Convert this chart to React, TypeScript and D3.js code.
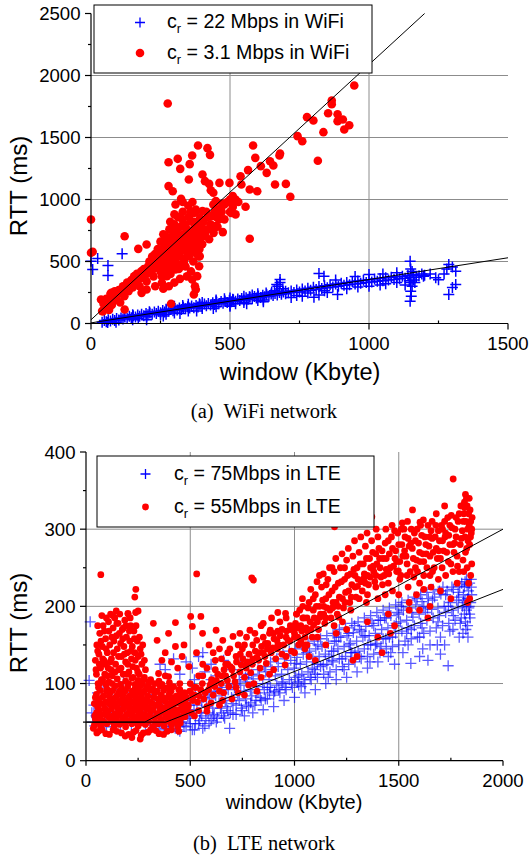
import React, { useEffect, useRef } from "react";
import * as d3 from "d3";

type Pt = [number, number];

// ---------- (a) WiFi network : [window KB, RTT ms] ----------
const wifi22Pts: Pt[] = [
  [0, 503], [6, 435], [24, 524], [61, 468], [61, 387], [112, 562],
  [40, 10], [48, 25], [55, 14], [62, 30], [70, 20], [78, 35], [85, 24], [92, 40], [100, 28], [108, 45],
  [115, 36], [122, 52], [130, 40], [138, 58], [145, 46], [152, 62], [160, 52], [168, 68], [175, 58], [182, 75],
  [190, 62], [198, 80], [205, 70], [212, 85], [220, 75], [228, 92], [235, 80], [242, 98], [250, 86], [258, 104],
  [265, 92], [272, 108], [280, 98], [288, 115], [295, 102], [302, 120], [310, 108], [318, 126], [325, 112], [332, 130],
  [340, 118], [348, 136], [355, 124], [362, 142], [370, 128], [378, 146], [385, 134], [392, 152], [400, 140], [408, 158],
  [415, 144], [422, 162], [430, 150], [438, 168], [445, 154], [452, 172], [460, 160], [468, 178], [475, 164], [482, 182],
  [490, 170], [498, 188], [505, 175], [512, 192], [520, 180], [528, 198], [535, 185], [542, 202], [550, 190], [558, 208],
  [565, 195], [572, 212], [580, 200], [588, 218], [595, 205], [602, 222], [610, 210], [618, 228], [625, 215], [632, 232],
  [640, 220], [648, 238], [655, 225], [662, 242], [670, 230], [678, 250], [685, 236], [692, 255], [700, 240],
  [150, 30], [200, 55], [250, 70], [300, 85], [350, 100], [400, 120], [450, 135], [500, 150], [550, 170], [600, 185],
  [300, 140], [350, 155], [400, 170], [450, 190], [500, 205], [550, 220], [600, 240], [650, 255], [120, 60], [270, 75],
  [330, 145], [480, 200], [520, 160], [580, 230], [620, 190], [680, 330], [672, 300], [690, 280], [660, 265], [700, 260],
  [200, 30], [260, 60], [320, 80], [380, 100], [440, 120], [500, 140], [560, 160], [620, 175], [150, 70], [210, 95],
  [270, 115], [330, 135], [390, 160], [450, 180], [510, 195], [570, 215], [630, 245], [90, 10], [60, 8], [170, 40],
  [710, 248], [720, 262], [730, 250], [740, 270], [750, 255], [760, 278], [770, 262], [780, 285], [790, 268], [800, 292],
  [810, 275], [820, 298], [830, 282], [840, 305], [850, 288], [860, 312], [870, 295], [880, 318], [890, 300], [900, 325],
  [910, 308], [920, 330], [930, 312], [940, 338], [950, 318], [960, 342], [970, 325], [980, 348], [990, 330], [1000, 352],
  [1010, 335], [1020, 358], [1030, 340], [1040, 362], [1050, 345], [1060, 368], [1070, 350], [1080, 372], [1090, 355],
  [1100, 378], [1110, 360], [1120, 382], [1130, 365], [1140, 390], [1150, 370], [1160, 395], [1170, 372], [1180, 385],
  [1190, 400], [1150, 330], [1155, 300], [1145, 345], [1160, 350], [1150, 260], [1152, 220], [1148, 180], [1148, 503],
  [1150, 440], [1155, 420], [1165, 330], [1130, 310], [1100, 330], [1060, 320], [1040, 310], [1000, 300], [960, 295],
  [920, 280], [887, 234], [850, 250], [802, 212], [820, 230], [760, 220], [740, 225], [720, 210], [780, 245], [840, 265],
  [820, 403], [838, 382], [880, 350], [950, 380], [1000, 395], [1050, 400], [1100, 410], [1200, 390], [1240, 368],
  [1196, 382], [1250, 352], [1280, 440], [1287, 476], [1300, 455], [1312, 422], [1287, 234], [1312, 315], [1300, 290],
  [1270, 400], [1220, 400], [680, 355], [668, 315],
];

const wifi31Pts: Pt[] = [
  [276, 1774], [0, 839], [6, 578], [0, 570], [121, 704], [170, 602], [200, 637], [385, 1435], [419, 1414], [428, 1360],
  [364, 1355], [312, 1328], [355, 1285], [279, 1301], [321, 1247], [352, 1161], [401, 1202], [410, 1148], [425, 1126],
  [431, 1075], [440, 1054], [279, 1108], [294, 1067], [324, 1005], [304, 960], [583, 1435], [591, 1336], [565, 1237],
  [538, 1188], [541, 1121], [498, 1134], [462, 1134], [510, 1027], [522, 987], [504, 892], [474, 968], [449, 987],
  [468, 933], [556, 941], [571, 1081], [598, 1067], [611, 1269], [632, 1215], [644, 1309], [656, 1274], [678, 1355],
  [680, 1371], [662, 1121], [701, 1126], [717, 1022], [571, 683], [743, 1511], [760, 1470], [777, 1664], [800, 1637],
  [816, 1312], [836, 1543], [853, 1696], [866, 1798], [866, 1769], [887, 1688], [887, 1632], [906, 1645], [911, 1565],
  [929, 1599], [947, 1919], [441, 731], [474, 737], [449, 785], [431, 866], [401, 906], [377, 919], [370, 892],
  [36, 194], [43, 99], [73, 247], [97, 261], [121, 113], [143, 328], [158, 382], [182, 247], [200, 274], [213, 462],
  [231, 301], [255, 328], [288, 159], [273, 382], [304, 435], [334, 489], [364, 355], [374, 301], [382, 382], [389, 462],
  [391, 543], [395, 637], [377, 274], [370, 234],
  [40, 100], [45, 160], [50, 130], [55, 200], [60, 180], [65, 110], [70, 240], [75, 150], [80, 210], [85, 260],
  [90, 190], [95, 230], [100, 270], [105, 170], [110, 250], [115, 300], [120, 220], [125, 280], [130, 330], [135, 260],
  [140, 310], [145, 350], [150, 290], [155, 380], [160, 330], [165, 400], [170, 350], [175, 300], [180, 420], [185, 370],
  [190, 440], [195, 390], [200, 340], [205, 460], [210, 410], [215, 480], [220, 430], [225, 380], [230, 500], [235, 450],
  [240, 520], [245, 470], [250, 420], [252, 560], [255, 500], [258, 600], [260, 450], [262, 540], [265, 650], [268, 480],
  [270, 580], [272, 700], [275, 520], [278, 620], [280, 460], [282, 760], [285, 560], [288, 680], [290, 500], [292, 620],
  [295, 740], [298, 540], [300, 800], [302, 650], [305, 580], [308, 720], [310, 480], [312, 860], [315, 620], [318, 700],
  [320, 540], [322, 780], [325, 660], [328, 600], [330, 900], [332, 720], [335, 520], [338, 680], [340, 800], [342, 620],
  [345, 760], [348, 560], [350, 700], [352, 860], [355, 640], [358, 740], [360, 580], [362, 820], [365, 680], [368, 500],
  [370, 760], [372, 620], [375, 900], [378, 700], [380, 560], [382, 800], [385, 660], [388, 740], [390, 600], [392, 850],
  [395, 700], [398, 780], [400, 640], [405, 820], [410, 720], [415, 900], [420, 760], [425, 680], [430, 800], [440, 960],
  [450, 860], [455, 780], [460, 920], [470, 900], [480, 840], [490, 980], [500, 900], [510, 940], [520, 880], [530, 980],
  [255, 380], [262, 420], [268, 560], [274, 440], [280, 640], [286, 400], [292, 700], [298, 460], [304, 520], [310, 760],
  [316, 440], [322, 580], [328, 840], [334, 600], [340, 460], [346, 680], [352, 540], [358, 900], [364, 600], [370, 820],
  [376, 640], [382, 700], [388, 540], [394, 760], [400, 700], [350, 950], [330, 980], [365, 980], [300, 880], [285, 820],
  [240, 600], [230, 560], [220, 540], [210, 500], [250, 660], [260, 720], [420, 860], [435, 760], [445, 900], [460, 840],
  [480, 960], [500, 1000], [520, 1000], [360, 420], [345, 380], [320, 360], [300, 330], [280, 300], [260, 280],
];

const wifi22Fit: Pt[] = [[0, 5], [1500, 530]];
const wifi31Fit: Pt[] = [[0, 30], [1200, 2500]];
const wifiXTicks = [0, 500, 1000, 1500];
const wifiYTicks = [0, 500, 1000, 1500, 2000, 2500];
const wifiXMinor = [250, 750, 1250];
const wifiYMinor = [250, 750, 1250, 1750, 2250];
const wifiXGrid = [500, 1000];
const wifiYGrid = [500, 1000, 1500, 2000];

// ---------- (b) LTE network ----------
const lte75Pts: Pt[] = [
  [15, 104], [20, 180], [28, 62], [32, 50], [38, 72], [42, 45], [48, 58], [55, 88], [62, 48], [68, 66], [75, 52],
  [82, 100], [90, 58], [98, 44], [105, 76], [112, 54], [120, 62], [128, 92], [135, 48], [142, 70], [150, 56], [158, 84],
  [165, 46], [172, 64], [180, 102], [188, 52], [195, 74], [202, 60], [210, 88], [218, 46], [225, 68], [232, 56], [240, 80],
  [248, 50], [255, 64], [262, 96], [270, 54], [278, 72], [285, 46], [292, 60], [300, 86], [308, 50], [315, 68], [322, 56],
  [330, 92], [338, 46], [345, 62], [352, 78], [360, 52], [368, 70], [375, 44], [382, 58], [390, 84], [398, 48], [405, 64],
  [412, 55], [420, 76], [428, 42], [435, 60], [442, 50],
  [355, 125], [380, 118], [420, 132], [450, 112], [480, 128], [510, 120], [540, 135], [570, 115], [600, 125], [630, 110],
  [660, 130], [700, 118], [740, 135], [780, 112], [520, 105], [600, 105], [560, 140],
  [450, 38], [458, 62], [465, 80], [480, 44], [488, 58], [495, 72], [510, 40], [518, 66], [525, 85], [540, 48], [548, 62],
  [555, 78], [570, 45], [578, 70], [585, 88], [600, 52], [608, 68], [615, 90], [630, 55], [638, 75], [645, 95], [660, 58],
  [668, 78], [675, 98], [689, 42], [692, 62], [698, 82], [705, 100], [720, 60], [728, 86], [735, 105], [750, 65], [758, 90],
  [765, 108], [780, 70], [788, 92], [795, 112], [810, 72], [818, 96], [825, 118], [840, 78], [848, 100], [855, 122],
  [870, 80], [878, 105], [885, 128], [900, 85], [908, 110], [915, 132], [930, 88], [938, 112], [945, 138], [960, 92],
  [968, 118], [975, 142], [990, 95], [998, 120], [1005, 145], [1020, 98], [1028, 125], [1035, 150], [1050, 100],
  [1058, 128], [1065, 152], [1080, 105], [1088, 132], [1095, 155], [1110, 108], [1118, 135], [1125, 158], [1140, 112],
  [1148, 138], [1155, 162], [1170, 115], [1178, 142], [1185, 165], [1200, 118], [1208, 145], [1215, 170], [1230, 122],
  [1238, 148], [1245, 172], [1260, 125], [1268, 152], [1275, 178], [1290, 128], [1298, 155], [1305, 180], [1320, 132],
  [1328, 160], [1335, 185], [1350, 135], [1358, 162], [1365, 188], [1380, 138], [1388, 165], [1395, 192], [1410, 140],
  [1418, 170], [1425, 195], [1440, 145], [1448, 172], [1455, 198], [1470, 148], [1478, 175], [1485, 202], [1500, 150],
  [1508, 180], [1515, 205], [1530, 155], [1538, 182], [1545, 208], [1560, 158], [1568, 186], [1575, 212], [1590, 160],
  [1598, 190], [1605, 215], [1620, 165], [1628, 192], [1635, 218], [1650, 168], [1658, 196], [1665, 222], [1680, 172],
  [1688, 198], [1695, 220], [1710, 175], [1718, 200], [1725, 215], [1740, 178], [1748, 205], [1755, 225], [1770, 182],
  [1778, 208], [1785, 218], [1800, 185], [1805, 200], [1810, 215], [1815, 225], [1820, 180], [1825, 195], [1830, 210],
  [1835, 220], [1840, 190], [1845, 205], [1850, 215], [1830, 175], [1840, 230], [1815, 190], [1825, 235],
  [1737, 123], [1558, 126], [1600, 135], [1640, 130], [1700, 138], [1720, 150], [1480, 125], [1450, 135], [1520, 140],
  [1400, 128], [1350, 120], [1300, 115], [1250, 108], [1200, 105], [1150, 100], [1100, 92], [1050, 88], [1000, 82],
  [950, 78], [900, 70], [850, 66], [800, 62], [760, 58], [1270, 140], [1180, 130], [1110, 125], [1020, 110], [940, 100],
  [870, 95], [1600, 160], [1650, 150], [1700, 160], [1760, 170], [1790, 160], [1560, 170], [1620, 200], [1500, 190],
  [1440, 185], [1380, 175], [1320, 168], [1260, 165], [1200, 155],
  [465, 50], [472, 70], [495, 55], [502, 78], [525, 48], [532, 72], [555, 58], [562, 82], [585, 62], [592, 80], [615, 60],
  [622, 84], [645, 68], [652, 88], [675, 70], [682, 92], [705, 74], [712, 95], [735, 78], [742, 98], [765, 80], [772, 102],
  [795, 84], [802, 106], [825, 88], [832, 110], [855, 92], [862, 115], [885, 95], [892, 118], [915, 98], [922, 122],
  [945, 102], [952, 126], [975, 105], [982, 130], [1005, 108], [1012, 134], [1035, 112], [1042, 138], [1065, 115],
  [1072, 142], [1095, 118], [1102, 145], [1125, 122], [1132, 148], [1155, 125], [1162, 152], [1185, 128], [1192, 155],
  [1215, 132], [1222, 160], [1245, 135], [1252, 162], [1275, 140], [1282, 166], [1305, 142], [1312, 170], [1335, 145],
  [1342, 174], [1365, 150], [1372, 178], [1395, 152], [1402, 182], [1425, 158], [1432, 185], [1455, 160], [1462, 188],
  [1485, 165], [1492, 192], [1515, 168], [1522, 195], [1545, 172], [1552, 198], [1575, 175], [1582, 202], [1605, 178],
  [1612, 206], [1635, 182], [1642, 210], [1665, 185], [1672, 212], [1695, 188], [1702, 216], [1725, 192], [1732, 220],
  [1755, 195], [1762, 222], [1785, 198], [1792, 226], [1812, 205], [1818, 232], [1838, 200], [1848, 225], [1822, 170],
  [1842, 185], [1808, 165], [1832, 160],
  [350, 40], [380, 42], [410, 45], [440, 40], [470, 45], [500, 48], [520, 40], [545, 52], [560, 42], [575, 55], [590, 48],
  [610, 58], [625, 50], [650, 62], [665, 55], [680, 65], [705, 60], [720, 72], [745, 68], [770, 72], [790, 75], [815, 78],
  [835, 82], [860, 80], [880, 88], [905, 90], [925, 92], [955, 95], [985, 100], [1015, 102], [1045, 105], [1075, 108],
  [1008, 126], [1032, 96], [1058, 140], [1085, 120], [1112, 150], [1138, 124], [1162, 108], [1188, 142], [1212, 160],
  [1238, 118], [1262, 150], [1288, 175], [1312, 135], [1338, 162], [1362, 128], [1388, 150], [1412, 182], [1438, 158],
  [1462, 140], [1488, 178], [1512, 200], [1538, 165], [1562, 192], [1588, 210], [1612, 172], [1638, 198], [1662, 208],
  [1688, 180], [1712, 225], [1738, 200], [1762, 188], [1788, 212], [1802, 230], [1828, 228], [1848, 235], [1818, 208],
  [1836, 198], [1795, 178], [1745, 168], [1685, 150], [1615, 145], [1545, 150], [1470, 160], [1415, 148], [1352, 150],
  [1290, 140], [1228, 132], [1165, 135], [1100, 112],
];

const lte55Pts: Pt[] = [
  // plume at small windows
  [45, 130], [50, 112], [52, 150], [58, 100], [62, 138], [66, 165], [70, 120], [74, 105], [78, 148], [82, 175],
  [86, 130], [90, 112], [94, 158], [98, 185], [102, 140], [106, 120], [110, 168], [114, 150], [118, 190], [122, 132],
  [126, 110], [130, 172], [134, 155], [138, 185], [142, 125], [146, 162], [150, 145], [154, 178], [158, 118], [162, 190],
  [166, 152], [170, 135], [174, 170], [178, 112], [182, 148], [186, 182], [190, 128], [194, 160], [198, 140], [202, 190],
  [206, 115], [210, 155], [214, 175], [218, 132], [222, 148], [226, 108], [230, 168], [234, 140], [238, 192], [242, 120],
  [246, 155], [250, 135], [255, 112], [260, 145], [268, 125], [275, 105], [285, 118], [300, 102],
  [48, 118], [56, 142], [64, 125], [72, 155], [80, 132], [88, 168], [96, 145], [104, 110], [108, 180], [116, 128],
  [124, 160], [132, 140], [140, 115], [148, 178], [156, 135], [160, 165], [168, 120], [176, 158], [184, 138], [192, 175],
  [200, 125], [208, 168], [216, 142], [224, 122], [232, 158], [240, 175], [248, 115], [256, 160], [264, 138], [272, 150],
  [280, 130], [56, 175], [76, 188], [92, 125], [128, 188], [196, 112], [212, 185], [120, 118], [180, 172], [236, 130],
  [71, 241], [239, 222], [234, 212], [531, 242], [803, 234], [795, 237], [145, 194], [201, 191], [250, 194],
  // dense base
  [60, 38], [95, 35], [130, 40], [170, 36], [205, 34], [240, 39], [275, 36], [310, 40], [350, 35], [390, 38], [220, 30],
  [260, 28], [40, 46], [70, 44], [100, 48], [135, 45], [160, 47], [190, 44], [220, 48], [250, 45], [285, 47], [320, 44],
  [345, 48], [375, 45], [410, 47], [440, 44], [45, 54], [80, 52], [110, 56], [145, 53], [175, 55], [200, 52], [230, 56],
  [260, 54], [290, 52], [330, 56], [360, 53], [395, 55], [425, 52], [455, 55], [50, 62], [75, 60], [105, 64], [140, 61],
  [165, 63], [195, 60], [225, 64], [255, 62], [280, 60], [310, 64], [340, 61], [370, 63], [400, 60], [430, 64], [470, 62],
  [55, 70], [90, 68], [120, 72], [150, 69], [185, 71], [215, 68], [245, 72], [270, 70], [300, 68], [335, 72], [365, 69],
  [390, 71], [420, 68], [460, 72], [490, 70], [60, 78], [95, 76], [130, 80], [160, 77], [190, 79], [220, 76], [250, 80],
  [280, 78], [310, 76], [345, 80], [380, 77], [410, 79], [445, 76], [480, 80], [50, 86], [85, 84], [115, 88], [150, 85],
  [180, 87], [210, 84], [240, 88], [265, 86], [295, 84], [330, 88], [360, 85], [400, 87], [435, 84], [470, 88], [510, 86],
  [60, 95], [100, 93], [140, 97], [170, 94], [200, 96], [235, 93], [260, 97], [290, 95], [320, 93], [355, 97], [385, 94],
  [420, 96], [80, 105], [110, 102], [150, 106], [190, 103], [220, 107], [250, 104], [280, 108], [310, 105], [350, 103],
  [380, 110],
  [35, 42], [52, 36], [78, 40], [112, 34], [148, 38], [188, 32], [228, 37], [265, 33], [298, 37], [335, 39], [372, 34],
  [410, 40], [445, 38], [58, 50], [88, 49], [122, 51], [152, 50], [182, 49], [212, 51], [242, 50], [272, 49], [302, 51],
  [332, 50], [362, 49], [392, 51], [422, 50], [452, 49], [42, 58], [68, 58], [98, 59], [128, 58], [158, 59], [188, 57],
  [218, 59], [248, 58], [278, 57], [305, 59], [352, 58], [382, 57], [412, 59], [442, 58], [475, 57], [62, 66], [92, 66],
  [122, 67], [158, 66], [178, 67], [208, 66], [238, 67], [262, 66], [292, 67], [322, 66], [355, 67], [382, 66], [412, 67],
  [445, 66], [480, 66], [40, 74], [72, 74], [108, 75], [138, 74], [168, 75], [202, 74], [232, 75], [262, 74], [288, 75],
  [318, 74], [352, 75], [398, 74], [432, 75], [470, 74], [45, 82], [78, 82], [112, 83], [142, 82], [175, 83], [205, 82],
  [235, 83], [265, 82], [296, 83], [325, 82], [368, 82], [395, 83], [425, 82], [458, 82], [68, 91], [98, 90], [128, 91],
  [160, 90], [190, 91], [222, 90], [250, 91], [278, 90], [308, 91], [340, 90], [372, 91], [408, 90], [445, 92], [65, 100],
  [95, 99], [125, 100], [165, 99], [205, 100], [235, 99], [268, 100], [300, 99], [330, 100], [365, 99], [400, 101],
  // scattered middle
  [323, 178], [341, 156], [396, 165], [429, 179], [502, 187], [551, 187], [510, 174], [559, 165], [624, 169], [656, 156],
  [705, 161], [738, 165], [786, 169], [819, 156], [884, 169], [916, 156], [957, 191], [429, 148], [364, 130], [461, 135],
  [494, 122], [348, 113], [396, 109], [380, 140], [450, 100], [520, 95], [540, 110], [580, 120], [600, 100], [620, 130],
  [650, 110], [680, 140], [700, 120], [720, 135], [750, 145], [770, 125], [800, 150], [830, 140], [850, 160], [870, 145],
  [900, 165], [920, 150], [940, 170], [960, 160], [980, 175], [470, 150], [440, 120], [410, 128], [530, 140], [590, 150],
  [640, 145], [670, 125], [760, 150], [840, 175], [1010, 190], [1040, 185],
  // along the fit
  [400, 60], [415, 72], [430, 58], [445, 80], [460, 66], [475, 88], [490, 72], [505, 62], [520, 85], [535, 76], [550, 92],
  [565, 80], [580, 70], [595, 98], [610, 85], [625, 104], [640, 90], [655, 78], [670, 110], [685, 96], [700, 118],
  [715, 102], [730, 88], [745, 124], [760, 108], [775, 128], [790, 114], [805, 100], [820, 134], [835, 120], [850, 140],
  [865, 126], [880, 112], [895, 146], [910, 132], [925, 150], [940, 138], [955, 124], [970, 156], [985, 142], [1000, 160],
  [410, 95], [450, 92], [500, 100], [560, 110], [620, 118], [680, 125], [740, 138], [800, 132], [860, 152], [920, 168],
  [980, 170], [540, 65], [600, 75], [660, 88], [720, 95], [780, 98], [840, 108], [900, 118], [960, 135], [520, 58],
  [580, 64], [640, 72], [700, 80], [760, 85], [820, 90],
  [405, 70], [422, 63], [438, 75], [452, 85], [468, 72], [482, 82], [498, 90], [512, 78], [528, 95], [542, 84], [558, 100],
  [572, 88], [588, 92], [602, 105], [618, 96], [632, 112], [648, 100], [662, 118], [678, 104], [692, 122], [708, 110],
  [722, 128], [738, 115], [752, 132], [768, 120], [782, 138], [798, 125], [812, 142], [828, 130], [842, 148], [858, 135],
  [872, 152], [888, 140], [902, 158], [918, 145], [932, 162], [948, 150], [962, 168], [978, 155], [992, 172], [560, 125],
  [610, 140], [650, 132], [690, 145], [730, 150], [770, 160], [810, 165], [850, 178], [890, 185], [930, 180],
  // upper band
  [1000, 165], [1010, 190], [1020, 150], [1030, 175], [1040, 200], [1050, 160], [1060, 185], [1070, 205], [1080, 170],
  [1090, 195], [1100, 215], [1110, 180], [1120, 200], [1130, 225], [1140, 190], [1150, 210], [1160, 235], [1170, 195],
  [1180, 220], [1190, 245], [1200, 205], [1210, 230], [1220, 250], [1230, 210], [1240, 235], [1250, 260], [1260, 220],
  [1270, 242], [1280, 265], [1290, 225], [1300, 250], [1310, 270], [1320, 232], [1330, 255], [1340, 278], [1350, 240],
  [1360, 262], [1370, 285], [1380, 245], [1390, 268], [1400, 290], [1410, 250], [1420, 272], [1430, 240], [1440, 262],
  [1450, 285], [1460, 250], [1470, 275], [1480, 298], [1490, 258], [1500, 280], [1510, 240], [1520, 265], [1530, 290],
  [1540, 255], [1550, 278], [1560, 300], [1570, 262], [1580, 285], [1590, 245], [1600, 270], [1610, 292], [1620, 258],
  [1630, 280], [1640, 305], [1650, 265], [1660, 288], [1670, 250], [1680, 275], [1690, 298], [1700, 262], [1710, 285],
  [1720, 310], [1730, 270], [1740, 292], [1750, 255], [1760, 280], [1770, 300], [1780, 265], [1790, 320], [1800, 288],
  [1810, 310], [1815, 335], [1820, 270], [1825, 340], [1830, 300], [1835, 320], [1840, 280], [1845, 310], [1850, 255],
  [1835, 230], [1840, 210], [1780, 230], [1700, 220], [1650, 240], [1600, 230], [1550, 205], [1500, 215], [1450, 230],
  [1400, 210], [1350, 215], [1761, 365], [1566, 325], [1602, 309], [1517, 308], [1192, 303], [1371, 316], [1680, 320],
  [1720, 330], [1100, 130], [1300, 135], [1400, 160], [1460, 165], [1600, 195], [1640, 185], [1200, 165], [1050, 150],
  [1070, 135],
  [1005, 178], [1015, 160], [1025, 195], [1035, 168], [1045, 185], [1055, 172], [1065, 198], [1075, 180], [1085, 160],
  [1095, 185], [1105, 200], [1115, 170], [1125, 190], [1135, 208], [1145, 178], [1155, 198], [1165, 215], [1175, 185],
  [1185, 205], [1195, 225], [1205, 190], [1215, 212], [1225, 232], [1235, 198], [1245, 218], [1255, 240], [1265, 205],
  [1275, 228], [1285, 248], [1295, 212], [1305, 235], [1315, 255], [1325, 220], [1335, 242], [1345, 262], [1355, 228],
  [1365, 250], [1375, 270], [1385, 232], [1395, 255], [1405, 275], [1415, 238], [1425, 262], [1435, 282], [1445, 245],
  [1455, 268], [1465, 290], [1475, 252], [1485, 272], [1495, 295], [1505, 258], [1515, 280], [1525, 300], [1535, 265],
  [1545, 288], [1555, 245], [1565, 275], [1575, 295], [1585, 260], [1595, 282], [1605, 305], [1615, 268], [1625, 290],
  [1635, 250], [1645, 278], [1655, 298], [1665, 270], [1675, 290], [1685, 262], [1695, 285], [1705, 305], [1715, 272],
  [1725, 295], [1735, 315], [1745, 280], [1755, 302], [1765, 270], [1775, 290], [1785, 310], [1795, 280], [1805, 298],
  [1812, 320], [1818, 290], [1822, 310], [1828, 330], [1832, 285], [1838, 305], [1842, 325], [1848, 295], [1852, 315],
  [1808, 260], [1828, 250], [1845, 240], [1790, 245], [1760, 245], [1725, 240], [1690, 235], [1655, 225], [1620, 222],
  [1585, 215], [1545, 225], [1505, 235], [1470, 220], [1435, 215], [1390, 225], [1345, 205], [1310, 210], [1270, 195],
  [1230, 180], [1190, 175], [1150, 185], [1110, 160], [1060, 150], [1030, 155],
  [1000, 140], [1050, 145], [1150, 150], [1250, 170], [1350, 180], [1450, 190], [1550, 195], [1650, 200], [1750, 210],
  [1830, 205], [1280, 130], [1420, 140], [1480, 175],
  [1012, 172], [1038, 210], [1062, 168], [1078, 222], [1092, 176], [1108, 232], [1122, 186], [1138, 242], [1152, 228],
  [1168, 250], [1182, 198], [1198, 262], [1212, 186], [1228, 268], [1242, 205], [1258, 275], [1272, 212], [1288, 285],
  [1302, 226], [1318, 290], [1332, 236], [1348, 295], [1362, 238], [1378, 252], [1392, 300], [1408, 262], [1422, 228],
  [1438, 300], [1452, 242], [1468, 305], [1482, 262], [1498, 246], [1512, 300], [1528, 272], [1542, 310], [1558, 282],
  [1572, 238], [1588, 300], [1602, 258], [1618, 312], [1632, 268], [1648, 290], [1662, 245], [1678, 305], [1692, 272],
  [1708, 250], [1722, 290], [1738, 258], [1752, 318], [1768, 282], [1782, 252], [1798, 330], [1812, 245], [1826, 275],
  [1844, 290], [1850, 300], [1820, 345], [1816, 328], [1838, 340], [1775, 315], [1745, 305], [1710, 300], [1660, 310],
  [1620, 240], [1580, 250], [1540, 240], [1490, 245], [1440, 248], [1390, 240], [1340, 230], [1290, 240], [1240, 250],
  [1190, 200], [1140, 200], [1090, 210], [1040, 170], [960, 185], [920, 192], [880, 165], [1120, 240], [1180, 250],
  [1210, 200],
];

const lte75Fit: Pt[] = [[0, 50], [383, 50], [2000, 222]];
const lte55Fit: Pt[] = [[0, 50], [282, 50], [2000, 300]];
const lteXTicks = [0, 500, 1000, 1500, 2000];
const lteYTicks = [0, 100, 200, 300, 400];
const lteXMinor = [250, 750, 1250, 1750];
const lteYMinor = [50, 150, 250, 350];
const lteXGrid = [500, 1000, 1500];
const lteYGrid = [100, 200, 300];

const SANS = "'Liberation Sans', Arial, sans-serif";
const SERIF = "'Liberation Serif', 'Times New Roman', serif";

function plus(x: number, y: number, s: number) {
  return `M${x - s},${y}H${x + s}M${x},${y - s}V${y + s}`;
}

function drawPanel(svg: any, p: any) {
  const x = d3.scaleLinear().domain(p.xDomain).range(p.xRange);
  const y = d3.scaleLinear().domain(p.yDomain).range(p.yRange);
  const g = svg.append("g");
  const [x0, x1] = p.xRange;
  const [y0, y1] = p.yRange;

  // grid
  g.selectAll(".gx").data(p.xGrid).join("line")
    .attr("x1", (d: number) => x(d)).attr("x2", (d: number) => x(d))
    .attr("y1", y0).attr("y2", y1)
    .attr("stroke", "#8c8c8c").attr("stroke-width", 1);
  g.selectAll(".gy").data(p.yGrid).join("line")
    .attr("y1", (d: number) => y(d)).attr("y2", (d: number) => y(d))
    .attr("x1", x0).attr("x2", x1)
    .attr("stroke", "#8c8c8c").attr("stroke-width", 1);

  // blue crosses
  g.append("g").selectAll("path").data(p.bluePts).join("path")
    .attr("d", (d: Pt) => plus(x(d[0]), y(d[1]), p.plusSize))
    .attr("stroke", "#0000ff").attr("stroke-width", p.plusWidth)
    .attr("stroke-opacity", p.plusOpacity).attr("fill", "none");

  // red dots
  g.append("g").selectAll("circle").data(p.redPts).join("circle")
    .attr("cx", (d: Pt) => x(d[0])).attr("cy", (d: Pt) => y(d[1]))
    .attr("r", p.dotR).attr("fill", "#ff0000");

  // fits
  const line = d3.line<Pt>().x((d) => x(d[0])).y((d) => y(d[1]));
  [p.blueFit, p.redFit].forEach((f: Pt[]) => {
    g.append("path").attr("d", line(f)).attr("fill", "none")
      .attr("stroke", "#000").attr("stroke-width", 1);
  });

  // axes
  g.append("line").attr("x1", x0).attr("x2", x0).attr("y1", y0).attr("y2", y1)
    .attr("stroke", "#000").attr("stroke-width", 1.2);
  g.append("line").attr("x1", x0).attr("x2", x1).attr("y1", y0).attr("y2", y0)
    .attr("stroke", "#000").attr("stroke-width", 1.2);

  g.selectAll(".tx").data(p.xTicks).join("line")
    .attr("x1", (d: number) => x(d)).attr("x2", (d: number) => x(d))
    .attr("y1", y0).attr("y2", y0 + p.xTickLen).attr("stroke", "#000").attr("stroke-width", 1.2);
  g.selectAll(".txm").data(p.xMinor).join("line")
    .attr("x1", (d: number) => x(d)).attr("x2", (d: number) => x(d))
    .attr("y1", y0).attr("y2", y0 - 3).attr("stroke", "#000").attr("stroke-width", 1.2);
  g.selectAll(".ty").data(p.yTicks).join("line")
    .attr("y1", (d: number) => y(d)).attr("y2", (d: number) => y(d))
    .attr("x1", x0).attr("x2", x0 - 6).attr("stroke", "#000").attr("stroke-width", 1.2);
  g.selectAll(".tym").data(p.yMinor).join("line")
    .attr("y1", (d: number) => y(d)).attr("y2", (d: number) => y(d))
    .attr("x1", x0).attr("x2", x0 - 3).attr("stroke", "#000").attr("stroke-width", 1.2);

  g.selectAll(".lx").data(p.xTicks).join("text")
    .attr("x", (d: number) => x(d)).attr("y", y0 + 26.5)
    .attr("text-anchor", "middle").attr("font-family", SANS).attr("font-size", 18.6)
    .text((d: number) => d);
  g.selectAll(".ly").data(p.yTicks).join("text")
    .attr("x", x0 - 10.5).attr("y", (d: number) => y(d)).attr("dy", "0.36em")
    .attr("text-anchor", "end").attr("font-family", SANS).attr("font-size", 18.6)
    .text((d: number) => d);

  g.append("text").attr("x", p.xLabel.x).attr("y", p.xLabel.y)
    .attr("text-anchor", "middle").attr("font-family", SANS).attr("font-size", p.xLabel.size)
    .text("window (Kbyte)");
  g.append("text")
    .attr("transform", `translate(${p.yLabel.x},${p.yLabel.y}) rotate(-90)`)
    .attr("text-anchor", "middle").attr("font-family", SANS).attr("font-size", 24)
    .text("RTT (ms)");

  // legend
  const L = p.legend;
  g.append("rect").attr("x", L.x).attr("y", L.y).attr("width", L.w).attr("height", L.h)
    .attr("fill", "#fff").attr("stroke", "#000").attr("stroke-width", 1);
  g.append("path").attr("d", plus(L.mx, L.row1 - 5.5, 5))
    .attr("stroke", "#0000ff").attr("stroke-width", 1.3).attr("fill", "none");
  g.append("circle").attr("cx", L.mx).attr("cy", L.row2 - 6).attr("r", p.dotR).attr("fill", "#ff0000");
  L.labels.forEach((lab: string, i: number) => {
    const t = g.append("text").attr("x", L.tx).attr("y", i === 0 ? L.row1 : L.row2)
      .attr("font-family", SANS).attr("font-size", L.size);
    t.append("tspan").text("c");
    t.append("tspan").attr("dy", 5).attr("font-size", L.size * 0.65).text("r");
    t.append("tspan").attr("dy", -5).text(" = " + lab);
  });

  // caption
  svg.append("text").attr("x", p.caption.x).attr("y", p.caption.y)
    .attr("text-anchor", "middle").attr("font-family", SERIF).attr("font-size", 20.5)
    .attr("xml:space", "preserve")
    .text(p.caption.text);
}

const App = () => {
  const svgRef = useRef<SVGSVGElement>(null);

  useEffect(() => {
    const svg = d3.select(svgRef.current);
    svg.selectAll("*").remove();

    drawPanel(svg, {
      xDomain: [0, 1500], yDomain: [0, 2500], xRange: [91, 508], yRange: [323.5, 13.5],
      xTicks: wifiXTicks, yTicks: wifiYTicks, xMinor: wifiXMinor, yMinor: wifiYMinor,
      xGrid: wifiXGrid, yGrid: wifiYGrid, xTickLen: 6,
      bluePts: wifi22Pts, redPts: wifi31Pts, blueFit: wifi22Fit, redFit: wifi31Fit,
      plusSize: 5.5, plusWidth: 1.5, plusOpacity: 1, dotR: 4.3,
      xLabel: { x: 300, y: 380, size: 23.5 }, yLabel: { x: 27, y: 186 },
      legend: { x: 94, y: 5, w: 278, h: 68, mx: 140, tx: 167, row1: 28, row2: 59, size: 19.6,
        labels: ["22 Mbps in WiFi", "3.1 Mbps in WiFi"] },
      caption: { x: 264, y: 418, text: "(a)  WiFi network" },
    });

    drawPanel(svg, {
      xDomain: [0, 2000], yDomain: [0, 400], xRange: [86, 503], yRange: [760.7, 452],
      xTicks: lteXTicks, yTicks: lteYTicks, xMinor: lteXMinor, yMinor: lteYMinor,
      xGrid: lteXGrid, yGrid: lteYGrid, xTickLen: 5,
      bluePts: lte75Pts, redPts: lte55Pts, blueFit: lte75Fit, redFit: lte55Fit,
      plusSize: 5.5, plusWidth: 1.3, plusOpacity: 0.65, dotR: 3.4,
      xLabel: { x: 294, y: 809, size: 20 }, yLabel: { x: 27, y: 623 },
      legend: { x: 97, y: 456, w: 277, h: 71, mx: 145.5, tx: 174, row1: 479.5, row2: 513, size: 19.6,
        labels: ["75Mbps in LTE", "55Mbps in LTE"] },
      caption: { x: 264, y: 850, text: "(b)  LTE network" },
    });
  }, []);

  return (
    <svg
      ref={svgRef}
      width={530}
      height={861}
      style={{ position: "absolute", left: 0, top: 0, background: "#fff" }}
    />
  );
};

export default App;
